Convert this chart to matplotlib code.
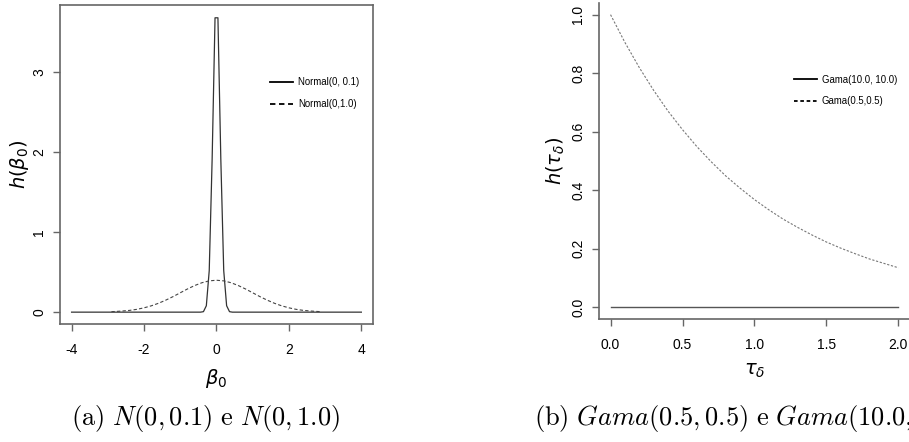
import matplotlib
matplotlib.use("Agg")
import matplotlib.pyplot as plt

plt.rcParams['font.family'] = ['Liberation Sans', 'DejaVu Sans']
plt.rcParams['mathtext.fontset'] = 'dejavusans'
plt.rcParams['axes.unicode_minus'] = False

# painel (a): densidades normais
x_estreita = [-4.0, -0.44, -0.36, -0.28, -0.20, -0.12, -0.04, 0.04, 0.12, 0.20, 0.28, 0.36, 0.44, 4.0]
y_estreita = [0.0, 0.0, 0.006, 0.08, 0.52, 1.91, 3.68, 3.68, 1.91, 0.52, 0.08, 0.006, 0.0, 0.0]

x_larga = [-2.9, -2.8, -2.6, -2.4, -2.2, -2.0, -1.8, -1.6, -1.4, -1.2, -1.0, -0.8, -0.6, -0.4, -0.2, 0.0,
           0.2, 0.4, 0.6, 0.8, 1.0, 1.2, 1.4, 1.6, 1.8, 2.0, 2.2, 2.4, 2.6, 2.8, 2.9]
y_larga = [0.006, 0.008, 0.014, 0.022, 0.035, 0.054, 0.079, 0.111, 0.150, 0.194, 0.242, 0.290, 0.333, 0.368, 0.391, 0.399,
           0.391, 0.368, 0.333, 0.290, 0.242, 0.194, 0.150, 0.111, 0.079, 0.054, 0.035, 0.022, 0.014, 0.008, 0.006]

# painel (b): densidades gama
x_gama = [0.0, 0.1, 0.2, 0.3, 0.4, 0.5, 0.6, 0.7, 0.8, 0.9, 1.0, 1.1, 1.2, 1.3, 1.4, 1.5, 1.6, 1.7, 1.8, 1.9, 2.0]
y_gama05 = [1.0, 0.905, 0.819, 0.741, 0.670, 0.607, 0.549, 0.497, 0.449, 0.407, 0.368, 0.333, 0.301, 0.273,
            0.247, 0.223, 0.202, 0.183, 0.165, 0.150, 0.135]
y_gama10 = [0.0] * len(x_gama)

rotulos_a = ['Normal(0, 0.1)', 'Normal(0,1.0)']
rotulos_b = ['Gama(10.0, 10.0)', 'Gama(0.5,0.5)']

fig = plt.figure(figsize=(9.09, 4.42), dpi=100)
ax1 = fig.add_axes([0.066, 0.267, 0.3443, 0.7217])
ax2 = fig.add_axes([0.659, 0.2783, 0.342, 0.715])

cor_eixo = '#666666'


def estilo(ax):
    for s in ax.spines.values():
        s.set_color(cor_eixo)
        s.set_linewidth(1.2)
    ax.tick_params(direction='out', length=5, width=1, color=cor_eixo, labelsize=10)
    ax.tick_params(axis='x', pad=9)
    ax.tick_params(axis='y', pad=5, labelrotation=90)
    for lab in ax.get_yticklabels():
        lab.set_va('center')


fonte_leg = {'family': ['Liberation Sans', 'DejaVu Sans'], 'size': 6.9}

ax1.plot(x_estreita, y_estreita, color='#333333', lw=0.9, label=rotulos_a[0])
ax1.plot(x_larga, y_larga, color='#444444', lw=0.8, dashes=(3, 2), label=rotulos_a[1])
ax1.set_xlim(-4.32, 4.32)
ax1.set_ylim(-0.148, 3.84)
ax1.set_xticks([-4, -2, 0, 2, 4])
ax1.set_yticks([0, 1, 2, 3])
estilo(ax1)
ax1.set_xlabel(r'$\beta_0$', fontsize=14, labelpad=7)
ax1.set_ylabel(r'$h(\beta_0)$', fontsize=14, labelpad=1)
leg1 = ax1.legend(loc='upper left', bbox_to_anchor=(0.645, 0.8), frameon=False, handlelength=2.4,
                  handletextpad=0.5, labelspacing=1.2, prop=fonte_leg)
for ln in leg1.get_lines():
    ln.set_color('black')
    ln.set_linewidth(1.3)

ax2.plot(x_gama, y_gama10, color='#555555', lw=1.0, label=rotulos_b[0])
ax2.plot(x_gama, y_gama05, color='#777777', lw=0.8, dashes=(2, 1.5), label=rotulos_b[1])
ax2.set_xlim(-0.08, 2.08)
ax2.set_ylim(-0.04, 1.04)
ax2.set_xticks([0.0, 0.5, 1.0, 1.5, 2.0])
ax2.set_xticklabels(['0.0', '0.5', '1.0', '1.5', '2.0'])
ax2.set_yticks([0.0, 0.2, 0.4, 0.6, 0.8, 1.0])
ax2.set_yticklabels(['0.0', '0.2', '0.4', '0.6', '0.8', '1.0'])
estilo(ax2)
ax2.spines['top'].set_visible(False)
ax2.set_xlabel(r'$\tau_\delta$', fontsize=14, labelpad=7)
ax2.set_ylabel(r'$h(\tau_\delta)$', fontsize=14, labelpad=3)
leg2 = ax2.legend(loc='upper left', bbox_to_anchor=(0.6, 0.8), frameon=False, handlelength=2.4,
                  handletextpad=0.5, labelspacing=1.2, prop=fonte_leg)
for ln in leg2.get_lines():
    ln.set_color('black')
    ln.set_linewidth(1.3)

# legendas das subfiguras (estilo LaTeX)
fig.text(0.2266, 0.054, r'$\mathrm{(a)}\ N(0,0.1)\ \mathrm{e}\ N(0,1.0)$', ha='center', va='center',
         fontsize=19, math_fontfamily='cm')
fig.text(0.588, 0.054, r'$\mathrm{(b)}\ Gama(0.5,0.5)\ \mathrm{e}\ Gama(10.0,10.0)$', ha='left', va='center',
         fontsize=19, math_fontfamily='cm')

fig.savefig('out.png', dpi=100)
